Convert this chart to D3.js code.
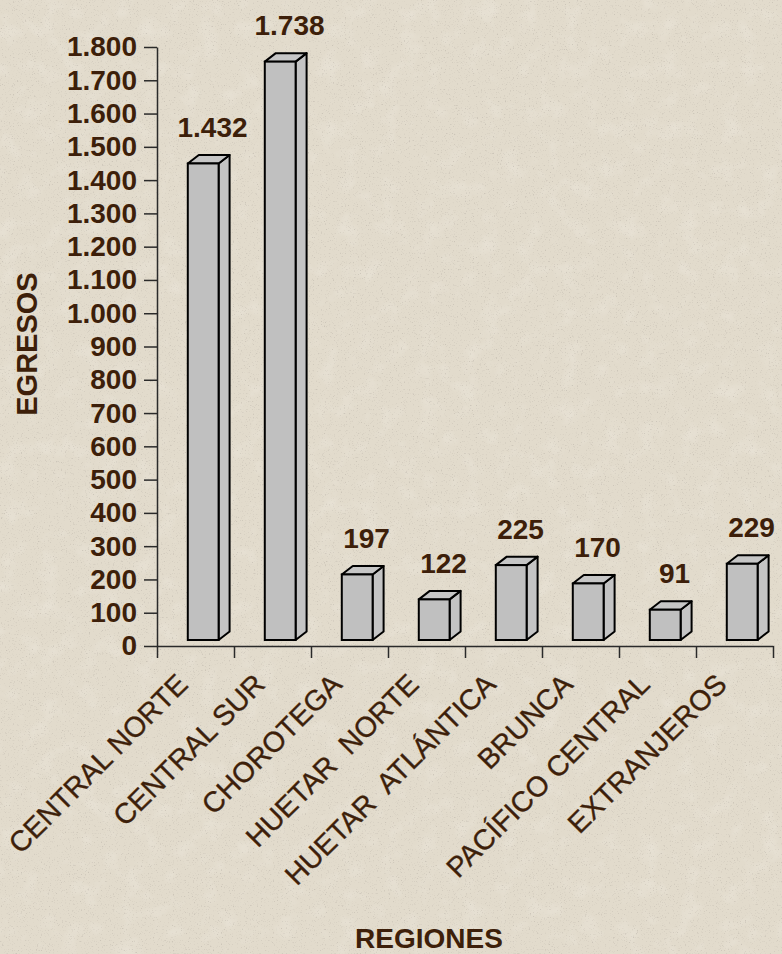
<!DOCTYPE html>
<html>
<head>
<meta charset="utf-8">
<script src="https://cdn.jsdelivr.net/npm/d3@7"></script>
<style>
  html, body { margin: 0; padding: 0; background: #e2dbcc; }
  svg { display: block; }
  text { font-family: "Liberation Sans", Arial, sans-serif; }
</style>
</head>
<body>
<svg id="chart" width="782" height="954"></svg>
<script>
// ---- data ----
const categories = ["CENTRAL NORTE", "CENTRAL SUR", "CHOROTEGA", "HUETAR  NORTE",
                    "HUETAR  ATLÁNTICA", "BRUNCA", "PACÍFICO CENTRAL", "EXTRANJEROS"];
const values = [1432, 1738, 197, 122, 225, 170, 91, 229];
const yTicks = [0, 100, 200, 300, 400, 500, 600, 700, 800, 900, 1000,
                1100, 1200, 1300, 1400, 1500, 1600, 1700, 1800];
const yTitle = "EGRESOS";
const xTitle = "REGIONES";

// ---- setup ----
const W = 782, H = 954;
const textColor = "#3d1f0a";
const svg = d3.select("#chart");
const locale = d3.formatLocale({decimal: ",", thousands: ".", grouping: [3], currency: ["", ""]});
const fmt = locale.format(",d");

// background texture
const defs = svg.append("defs");
const f1 = defs.append("filter").attr("id", "speck").attr("x", 0).attr("y", 0).attr("width", "100%").attr("height", "100%");
f1.append("feTurbulence").attr("type", "fractalNoise").attr("baseFrequency", 0.75).attr("numOctaves", 2).attr("seed", 7);
f1.append("feColorMatrix").attr("type", "matrix")
  .attr("values", "0 0 0 0 0.45  0 0 0 0 0.41  0 0 0 0 0.36  4.5 0 0 0 -2.75");
const f2 = defs.append("filter").attr("id", "blot").attr("x", 0).attr("y", 0).attr("width", "100%").attr("height", "100%");
f2.append("feTurbulence").attr("type", "fractalNoise").attr("baseFrequency", 0.05).attr("numOctaves", 3).attr("seed", 2);
f2.append("feColorMatrix").attr("type", "matrix")
  .attr("values", "0 0 0 0 0.97  0 0 0 0 0.95  0 0 0 0 0.91  2.0 0 0 0 -1.0");

svg.append("rect").attr("width", W).attr("height", H).attr("fill", "#e2dbcc");
svg.append("rect").attr("width", W).attr("height", H).attr("filter", "url(#blot)").attr("opacity", 0.25);
svg.append("rect").attr("width", W).attr("height", H).attr("filter", "url(#speck)").attr("opacity", 0.45);

// ---- scales ----
const x0 = 157, x1 = 773, yTop = 47, yBase = 646;
const x = d3.scaleBand().domain(categories).range([x0, x1]).padding(0);
const xEdge = d3.scaleLinear().domain([0, categories.length]).range([x0, x1]);
const y = d3.scaleLinear().domain([0, 1800]).range([yBase, yTop]);

const bw = x.bandwidth();
const depthX = 11, depthY = -8.5, lift = 6;

// ---- axes ----
const yAxis = svg.append("g").attr("transform", `translate(${x0},0)`)
  .call(d3.axisLeft(y).tickValues(yTicks).tickSize(13).tickSizeOuter(0).tickPadding(7).tickFormat(fmt));
yAxis.select(".domain").attr("stroke", "#2a2a2a").attr("stroke-width", 1.5);
yAxis.selectAll(".tick line").attr("stroke", "#2a2a2a").attr("stroke-width", 1.5);
yAxis.selectAll(".tick text").attr("fill", textColor).attr("font-size", 28).attr("font-weight", "bold")
  .attr("font-family", "'Liberation Sans', Arial, sans-serif");

const xAxis = svg.append("g").attr("transform", `translate(0,${yBase})`)
  .call(d3.axisBottom(xEdge).ticks(categories.length).tickSize(12).tickSizeOuter(0).tickFormat(""));
xAxis.select(".domain").attr("stroke", "#2a2a2a").attr("stroke-width", 1.5);
xAxis.selectAll(".tick line").attr("stroke", "#2a2a2a").attr("stroke-width", 1.5);

// ---- bars ----
const bars = svg.append("g").selectAll("g").data(values).join("g");
bars.each(function(v, i) {
  const g = d3.select(this);
  const bx = x(categories[i]) + bw * 0.4;
  const w = bw * 0.4;
  const yt = y(v) - lift;
  const yb = y(0) - lift;
  const side = [[bx + w, yt], [bx + w + depthX, yt + depthY], [bx + w + depthX, yb + depthY], [bx + w, yb]];
  const top = [[bx, yt], [bx + depthX, yt + depthY], [bx + w + depthX, yt + depthY], [bx + w, yt]];
  g.append("polygon").attr("points", side.map(p => p.join(",")).join(" "))
    .attr("fill", "#c4c4c4").attr("stroke", "#000").attr("stroke-width", 2).attr("stroke-linejoin", "round");
  g.append("polygon").attr("points", top.map(p => p.join(",")).join(" "))
    .attr("fill", "#c6c6c6").attr("stroke", "#000").attr("stroke-width", 2).attr("stroke-linejoin", "round");
  g.append("rect").attr("x", bx).attr("y", yt).attr("width", w).attr("height", yb - yt)
    .attr("fill", "#c0c0c0").attr("stroke", "#000").attr("stroke-width", 2);
  g.append("text")
    .attr("x", x(categories[i]) + bw / 2 + 17)
    .attr("y", y(v) - 32.5)
    .attr("text-anchor", "middle")
    .attr("font-size", 28).attr("font-weight", "bold").attr("fill", textColor)
    .text(fmt(v));
});

// ---- category labels ----
svg.append("g").selectAll("text").data(categories).join("text")
  .attr("transform", d => `translate(${x(d) + bw / 2 - 6},686) rotate(-45)`)
  .attr("text-anchor", "end")
  .attr("font-size", 28.5)
  .attr("fill", textColor)
  .attr("stroke", textColor).attr("stroke-width", 0.35)
  .style("white-space", "pre")
  .text(d => d);

// ---- titles ----
svg.append("text").attr("transform", "translate(37,344) rotate(-90)")
  .attr("text-anchor", "middle").attr("font-size", 29).attr("font-weight", "bold")
  .attr("fill", textColor).text(yTitle);
svg.append("text").attr("x", 429).attr("y", 948)
  .attr("text-anchor", "middle").attr("font-size", 28).attr("font-weight", "bold")
  .attr("fill", textColor).text(xTitle);
</script>
</body>
</html>
